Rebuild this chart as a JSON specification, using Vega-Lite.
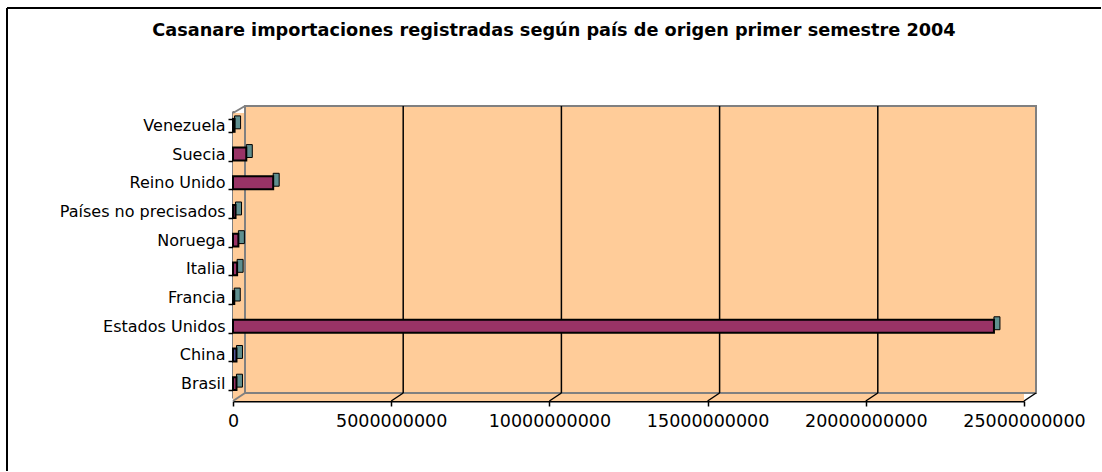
{
  "$schema": "https://vega.github.io/schema/vega-lite/v6.json",
  "width": 1094,
  "height": 463,
  "autosize": {"type": "none"},
  "padding": {"left": 7, "top": 8, "right": 0, "bottom": 0},
  "background": "white",
  "view": {"stroke": "black", "strokeWidth": 2, "strokeDash": [1094, 1557, 463, 0]},
  "config": {"font": "DejaVu Sans"},
  "title": {
    "text": "Casanare importaciones registradas según país de origen primer semestre 2004",
    "font": "DejaVu Sans",
    "fontSize": 17.7,
    "fontWeight": "bold",
    "color": "black",
    "anchor": "middle",
    "frame": "group",
    "offset": -40
  },
  "datasets": {
    "imports": [
      {"pais": "Venezuela", "valor": 50000000},
      {"pais": "Suecia", "valor": 420000000},
      {"pais": "Reino Unido", "valor": 1270000000},
      {"pais": "Países no precisados", "valor": 80000000},
      {"pais": "Noruega", "valor": 170000000},
      {"pais": "Italia", "valor": 130000000},
      {"pais": "Francia", "valor": 40000000},
      {"pais": "Estados Unidos", "valor": 24050000000},
      {"pais": "China", "valor": 110000000},
      {"pais": "Brasil", "valor": 110000000}
    ],
    "ticks": [
      {"v": 5000000000},
      {"v": 10000000000},
      {"v": 15000000000},
      {"v": 20000000000},
      {"v": 25000000000}
    ]
  },
  "resolve": {"scale": {"y": "independent"}},
  "layer": [
    {
      "data": {"values": [{}]},
      "mark": {"type": "rect", "fill": "#FFCC99", "xOffset": 12, "x2Offset": 12, "yOffset": -8},
      "encoding": {
        "x": {"datum": 0, "type": "quantitative"},
        "x2": {"datum": 25000000000},
        "y": {"datum": 0, "type": "quantitative", "scale": {"domain": [0, 1], "range": [393, 98]}, "axis": null},
        "y2": {"datum": 1}
      }
    },
    {
      "data": {"values": [{}]},
      "mark": {"type": "rect", "fill": "#FFCC99", "y2Offset": 7},
      "encoding": {
        "x": {"datum": 0, "type": "quantitative"},
        "x2": {"datum": 25000000000},
        "y": {"datum": 0, "type": "quantitative", "scale": {"domain": [0, 1], "range": [393, 98]}, "axis": null},
        "y2": {"datum": 1}
      }
    },
    {
      "data": {"values": [{}]},
      "mark": {"type": "rect", "fill": null, "fillOpacity": 0, "stroke": "#808080", "strokeWidth": 2, "xOffset": 12, "x2Offset": 12, "yOffset": -8},
      "encoding": {
        "x": {"datum": 0, "type": "quantitative"},
        "x2": {"datum": 25000000000},
        "y": {"datum": 0, "type": "quantitative", "scale": {"domain": [0, 1], "range": [393, 98]}, "axis": null},
        "y2": {"datum": 1}
      }
    },
    {
      "data": {"values": [{}]},
      "mark": {"type": "rule", "stroke": "#808080", "strokeWidth": 2, "x2Offset": 12, "y2Offset": -8},
      "encoding": {
        "x": {"datum": 0, "type": "quantitative"},
        "x2": {"datum": 0},
        "y": {"datum": 0, "type": "quantitative", "scale": {"domain": [0, 1], "range": [393, 98]}, "axis": null},
        "y2": {"datum": 0}
      }
    },
    {
      "data": {"values": [{}]},
      "mark": {"type": "rule", "stroke": "#808080", "strokeWidth": 2, "yOffset": 7, "x2Offset": 12},
      "encoding": {
        "x": {"datum": 0, "type": "quantitative"},
        "x2": {"datum": 0},
        "y": {"datum": 1, "type": "quantitative", "scale": {"domain": [0, 1], "range": [393, 98]}, "axis": null},
        "y2": {"datum": 1}
      }
    },
    {
      "data": {"name": "ticks"},
      "transform": [{"filter": "datum.v < 25000000000"}],
      "mark": {"type": "rule", "stroke": "black", "strokeWidth": 1.5, "xOffset": 12, "yOffset": -8},
      "encoding": {
        "x": {"field": "v", "type": "quantitative"},
        "y": {"datum": 0, "type": "quantitative", "scale": {"domain": [0, 1], "range": [393, 98]}, "axis": null},
        "y2": {"datum": 1}
      }
    },
    {
      "data": {"name": "ticks"},
      "mark": {"type": "rule", "stroke": "black", "strokeWidth": 1.5, "x2Offset": 12, "y2Offset": -8},
      "encoding": {
        "x": {"field": "v", "type": "quantitative"},
        "x2": {"field": "v"},
        "y": {"datum": 0, "type": "quantitative", "scale": {"domain": [0, 1], "range": [393, 98]}, "axis": null},
        "y2": {"datum": 0}
      }
    },
    {
      "data": {"name": "imports"},
      "mark": {"type": "rect", "fill": "#5F8F8F", "stroke": "black", "strokeWidth": 1, "x2Offset": 6, "yOffset": -3},
      "encoding": {
        "x": {"field": "valor", "type": "quantitative"},
        "x2": {"field": "valor"},
        "y": {"field": "pais", "type": "nominal", "sort": "descending", "scale": {"range": [103, 390], "paddingInner": 0.55, "paddingOuter": 0.275}, "axis": null}
      }
    },
    {
      "data": {"name": "imports"},
      "mark": {"type": "bar", "stroke": "black", "strokeWidth": 2},
      "encoding": {
        "x": {
          "field": "valor",
          "type": "quantitative",
          "scale": {"domain": [0, 25000000000], "range": [226, 1017], "nice": false, "zero": true},
          "axis": {
            "orient": "bottom",
            "offset": -70,
            "values": [0, 5000000000, 10000000000, 15000000000, 20000000000, 25000000000],
            "format": "d",
            "title": null,
            "grid": false,
            "labelFlush": false,
            "labelFont": "DejaVu Sans",
            "labelFontSize": 17.5,
            "labelColor": "black",
            "labelPadding": 6,
            "domainColor": "black",
            "domainWidth": 2,
            "tickColor": "black",
            "tickWidth": 1.5,
            "tickSize": 5
          }
        },
        "y": {
          "field": "pais",
          "type": "nominal",
          "sort": "descending",
          "scale": {"range": [103, 390], "paddingInner": 0.55, "paddingOuter": 0.275},
          "axis": {
            "offset": -226,
            "title": null,
            "tickBand": "extent",
            "labelFont": "DejaVu Sans",
            "labelFontSize": 16,
            "labelColor": "black",
            "labelPadding": 3,
            "domainColor": "black",
            "domainWidth": 2,
            "tickColor": "black",
            "tickWidth": 1.5,
            "tickSize": 5
          }
        },
        "color": {
          "condition": {"test": "datum.pais === 'China'", "value": "#555599"},
          "value": "#993366"
        }
      }
    }
  ]
}
